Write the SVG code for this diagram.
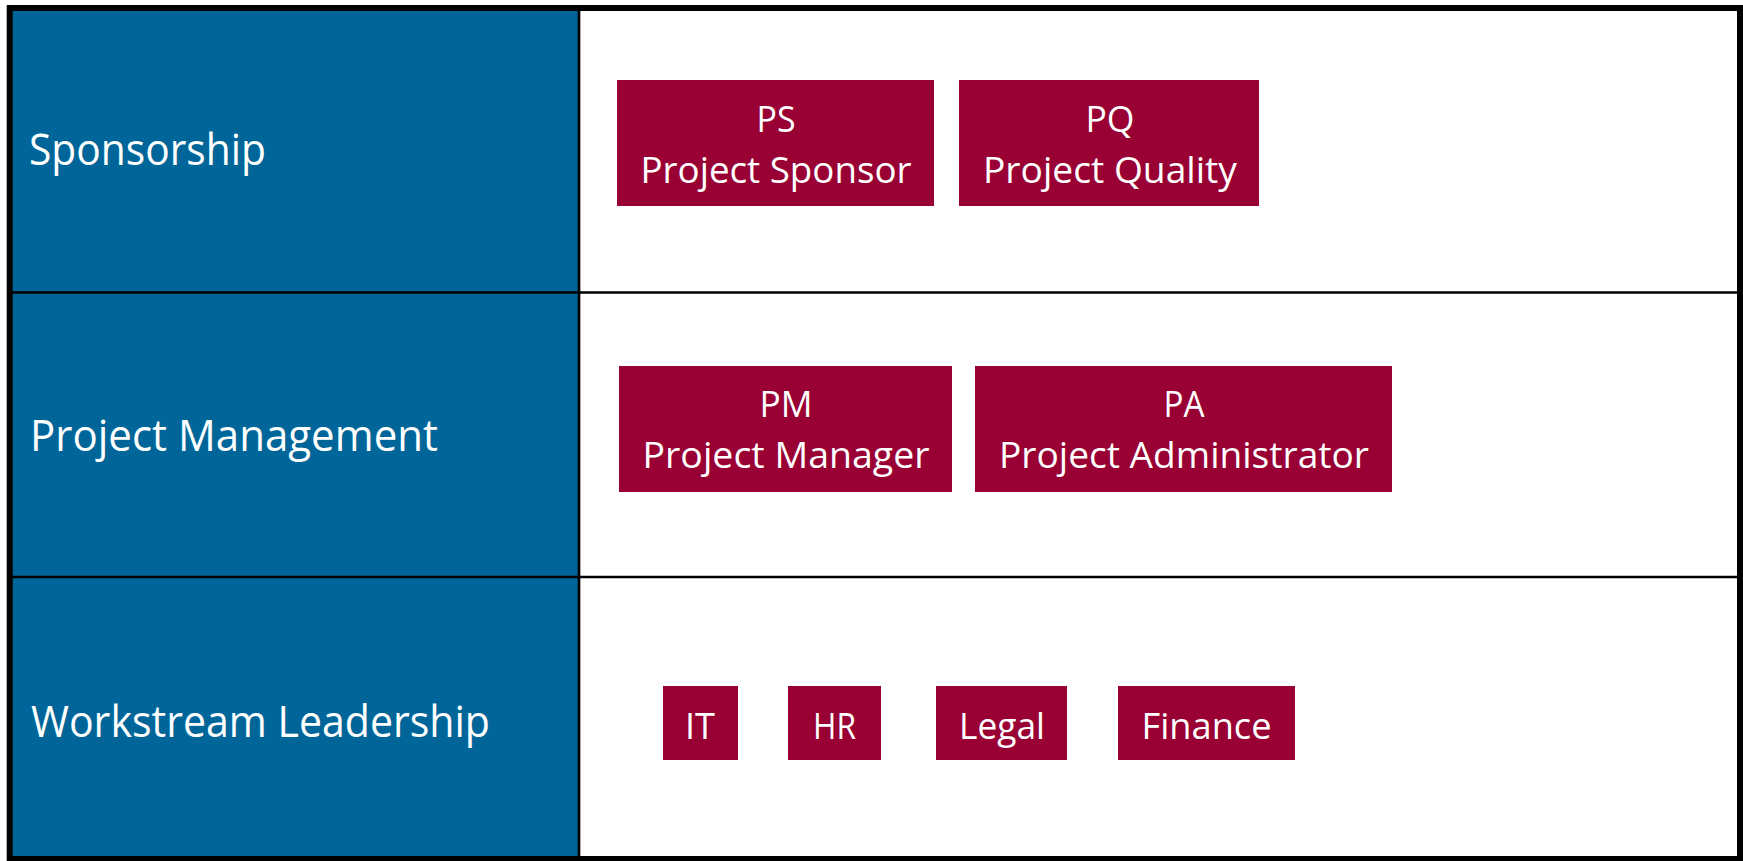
<svg xmlns="http://www.w3.org/2000/svg" width="1743" height="861" viewBox="0 0 1743 861">
  <style>
    .lane { fill: #006699; }
    .cell { fill: #ffffff; }
    .box { fill: #990033; }
    .lbl { font-family: "Open Sans", "Liberation Sans", sans-serif; font-size: 44px; fill: #ffffff; }
    .txt { font-family: "Open Sans", "Liberation Sans", sans-serif; font-size: 37px; fill: #ffffff; text-anchor: middle; }
    .line { stroke: #000000; stroke-width: 2.7; fill: none; }
    .frame { stroke: #000000; stroke-width: 6; fill: none; }
  </style>
  <rect x="0" y="0" width="1743" height="861" fill="#ffffff"/>
  <g id="background">
    <rect class="lane" x="12" y="10" width="567" height="850"/>
    <rect class="cell" x="579" y="10" width="1160" height="850"/>
  </g>
  <g id="grid">
    <line class="line" x1="579" y1="10" x2="579" y2="861"/>
    <line class="line" x1="10" y1="292.5" x2="1740" y2="292.5"/>
    <line class="line" x1="10" y1="577" x2="1740" y2="577"/>
    <rect class="frame" x="9.7" y="8" width="1730.3" height="851"/>
  </g>
  <g id="lane-sponsorship">
    <text class="lbl" x="29" y="165" textLength="237" lengthAdjust="spacingAndGlyphs">Sponsorship</text>
  </g>
  <g id="lane-project-management">
    <text class="lbl" x="30" y="451" textLength="408" lengthAdjust="spacingAndGlyphs">Project Management</text>
  </g>
  <g id="lane-workstream-leadership">
    <text class="lbl" x="31" y="737" textLength="459" lengthAdjust="spacingAndGlyphs">Workstream Leadership</text>
  </g>
  <g id="node-ps">
    <rect class="box" x="617" y="80" width="317" height="126"/>
    <text class="txt" x="776" y="132" textLength="39" lengthAdjust="spacingAndGlyphs">PS</text>
    <text class="txt" x="776" y="183" textLength="271" lengthAdjust="spacingAndGlyphs">Project Sponsor</text>
  </g>
  <g id="node-pq">
    <rect class="box" x="959" y="80" width="300" height="126"/>
    <text class="txt" x="1110" y="132" textLength="49" lengthAdjust="spacingAndGlyphs">PQ</text>
    <text class="txt" x="1110" y="183" textLength="254" lengthAdjust="spacingAndGlyphs">Project Quality</text>
  </g>
  <g id="node-pm">
    <rect class="box" x="619" y="366" width="333" height="126"/>
    <text class="txt" x="786" y="417" textLength="53" lengthAdjust="spacingAndGlyphs">PM</text>
    <text class="txt" x="786" y="468" textLength="287" lengthAdjust="spacingAndGlyphs">Project Manager</text>
  </g>
  <g id="node-pa">
    <rect class="box" x="975" y="366" width="417" height="126"/>
    <text class="txt" x="1184" y="417" textLength="41" lengthAdjust="spacingAndGlyphs">PA</text>
    <text class="txt" x="1184" y="468" textLength="370" lengthAdjust="spacingAndGlyphs">Project Administrator</text>
  </g>
  <g id="node-it">
    <rect class="box" x="663" y="686" width="75" height="74"/>
    <text class="txt" x="700" y="739" textLength="30" lengthAdjust="spacingAndGlyphs">IT</text>
  </g>
  <g id="node-hr">
    <rect class="box" x="788" y="686" width="93" height="74"/>
    <text class="txt" x="834.5" y="739" textLength="43" lengthAdjust="spacingAndGlyphs">HR</text>
  </g>
  <g id="node-legal">
    <rect class="box" x="936" y="686" width="131" height="74"/>
    <text class="txt" x="1002" y="739" textLength="86" lengthAdjust="spacingAndGlyphs">Legal</text>
  </g>
  <g id="node-finance">
    <rect class="box" x="1118" y="686" width="177" height="74"/>
    <text class="txt" x="1206.5" y="739" textLength="130" lengthAdjust="spacingAndGlyphs">Finance</text>
  </g>
  <g id="connectors"></g>
</svg>
